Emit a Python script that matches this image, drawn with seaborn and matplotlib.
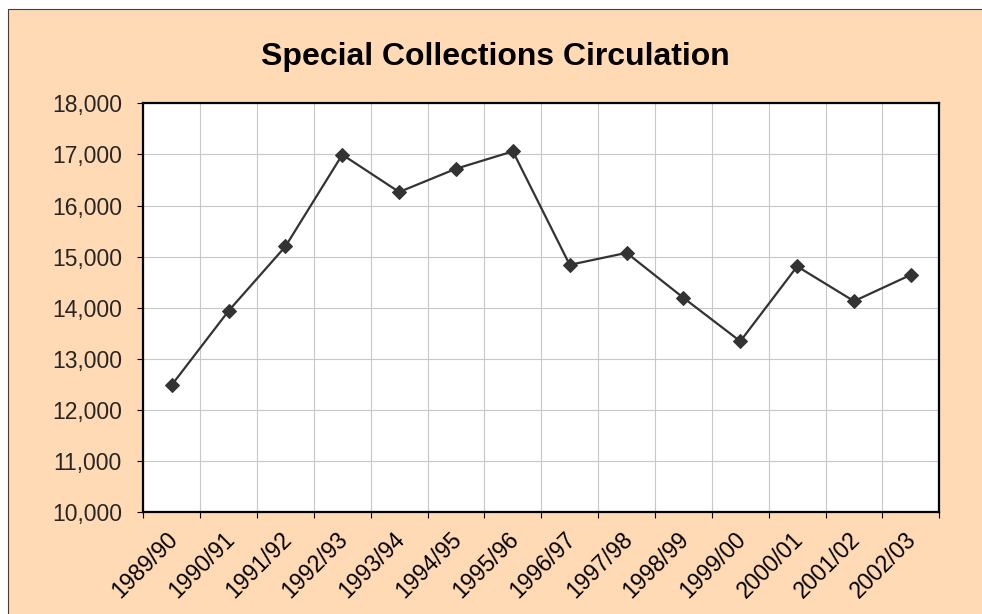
import numpy as np
import pandas as pd
import seaborn as sns
import matplotlib.pyplot as plt
from matplotlib.patches import Rectangle
from matplotlib.ticker import FuncFormatter, FixedLocator

years = ["1989/90", "1990/91", "1991/92", "1992/93", "1993/94", "1994/95", "1995/96",
         "1996/97", "1997/98", "1998/99", "1999/00", "2000/01", "2001/02", "2002/03"]
circulation = [12490, 13940, 15200, 16995, 16265, 16720, 17060,
               14840, 15075, 14195, 13345, 14810, 14130, 14645]

PEACH = "#FFDAB4"
INK = "#333333"


def main():
    df = pd.DataFrame({"year": years, "circulation": circulation})

    sns.set_style("whitegrid")
    plt.rcParams["font.family"] = ["Liberation Sans", "DejaVu Sans"]

    W, H = 982, 614
    fig = plt.figure(figsize=(W / 100, H / 100), dpi=100, facecolor="white")

    # peach chart area with a thin border on the visible edges
    fig.patches.append(Rectangle((8 / W, -0.05), 1.1, (H - 9) / H + 0.05,
                                 transform=fig.transFigure, facecolor=PEACH,
                                 edgecolor="#404040", linewidth=0.8, zorder=-5))

    left, right, top, bottom = 143.3, 939.3, 103.3, 512.3
    ax = fig.add_axes([left / W, (H - bottom) / H, (right - left) / W, (bottom - top) / H])
    ax.set_facecolor("white")

    sns.lineplot(data=df, x="year", y="circulation", sort=False, ax=ax,
                 color=INK, linewidth=1.6, marker="D", markersize=7.5,
                 markeredgecolor=INK, markerfacecolor=INK)

    n = len(years)
    ax.set_xlim(-0.5, n - 0.5)
    ax.set_ylim(10000, 18000)
    ax.set_yticks(np.arange(10000, 18001, 1000))
    ax.yaxis.set_major_formatter(FuncFormatter(lambda v, p: f"{int(v):,}"))

    # labels sit a touch right of the category centre, like Excel does
    ax.set_xticks(np.arange(n) + 0.04)
    ax.set_xticklabels(years, rotation=45, ha="right", va="center", rotation_mode="anchor")
    ax.xaxis.set_minor_locator(FixedLocator(np.arange(-0.5, n, 1.0)))

    ax.grid(False)
    ax.grid(axis="y", which="major", color="#C8C8C8", linewidth=0.8)
    ax.grid(axis="x", which="minor", color="#C8C8C8", linewidth=0.8)

    ax.tick_params(axis="x", which="major", length=0, labelsize=16.5, pad=17, colors="black")
    ax.tick_params(axis="x", which="minor", length=4.5, width=0.8, color="black", bottom=True)
    ax.tick_params(axis="y", which="major", length=4.5, width=0.8, color="black",
                   labelsize=16.5, pad=11, left=True)

    for s in ax.spines.values():
        s.set_visible(True)
        s.set_color("black")
        s.set_linewidth(1.6)

    ax.set_xlabel("")
    ax.set_ylabel("")

    fig.text(495 / W, (H - 65) / H, "Special Collections Circulation", ha="center",
             va="baseline", fontsize=23, fontweight="bold", color="black")

    fig.savefig("out.png", dpi=100, facecolor=fig.get_facecolor())


if __name__ == "__main__":
    main()
